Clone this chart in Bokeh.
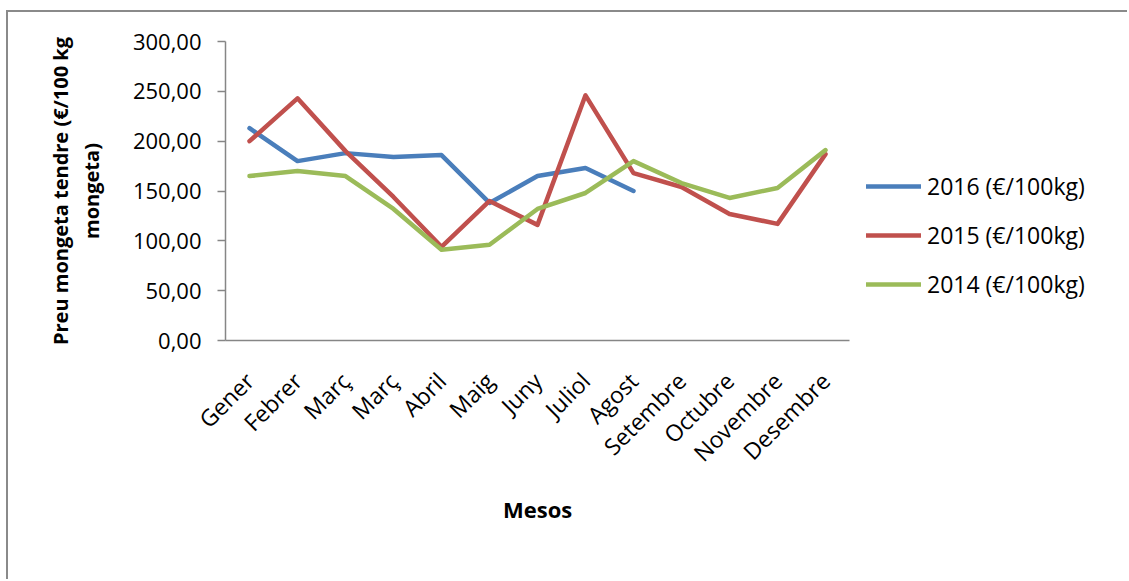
from bokeh.plotting import figure
from bokeh.models import Range1d, FixedTicker, Legend, LegendItem, Title
from bokeh.embed import file_html
from bokeh.resources import INLINE

# Monthly price of green beans (€/100 kg) for three seasons
months = ["Gener", "Febrer", "Març", "Març", "Abril", "Maig", "Juny",
          "Juliol", "Agost", "Setembre", "Octubre", "Novembre", "Desembre"]
price_2016 = [213, 180, 188, 184, 186, 138, 165, 173, 150]
price_2015 = [200, 243, 190, 144, 94, 140, 116, 246, 168, 154, 127, 117, 187]
price_2014 = [165, 170, 165, 132, 91, 96, 132, 148, 180, 158, 143, 153, 191]

series_names = ["2016 (€/100kg)", "2015 (€/100kg)", "2014 (€/100kg)"]
series_colors = ["#4A7EBB", "#C0504D", "#9BBB59"]

y_ticks = [0, 50, 100, 150, 200, 250, 300]
y_tick_labels = ["0,00", "50,00", "100,00", "150,00", "200,00", "250,00", "300,00"]

FONT = "Open Sans"
AXIS_GREY = "#868686"

# canvas and plot-area geometry (pixels)
CANVAS_W, CANVAS_H = 1121, 569
BORDER_LEFT, BORDER_TOP, BORDER_BOTTOM = 217, 29, 241
AXIS_LEN = 624                      # drawn length of the category axis
n = len(months)
px_per_cat = AXIS_LEN / n
frame_w = CANVAS_W - BORDER_LEFT
x_end = -0.5 + frame_w / px_per_cat  # free room on the right holds the legend

p = figure(
    width=CANVAS_W, height=CANVAS_H,
    x_range=Range1d(-0.5, x_end),
    y_range=Range1d(0, 300),
    output_backend="svg", toolbar_location=None,
    min_border_left=BORDER_LEFT, min_border_right=0,
    min_border_top=BORDER_TOP, min_border_bottom=BORDER_BOTTOM,
)
p.styles = {
    "margin-left": "6px", "margin-top": "10px",
    "border-left": "2px solid #8a8a8a", "border-top": "2px solid #8a8a8a",
}
p.outline_line_color = None
p.xgrid.visible = False
p.ygrid.visible = False
p.background_fill_color = "white"
p.border_fill_color = "white"

# x axis: month names, no tick marks
p.xaxis.bounds = (-0.5, n - 0.5)
p.xaxis.ticker = FixedTicker(ticks=list(range(n)))
p.xaxis.major_label_overrides = {i: m for i, m in enumerate(months)}
p.xaxis.major_label_orientation = 0.785398
p.xaxis.major_tick_line_color = None
p.xaxis.minor_tick_line_color = None
p.xaxis.axis_line_color = AXIS_GREY
p.xaxis.axis_line_width = 1.5
p.xaxis.major_label_text_font = FONT
p.xaxis.major_label_text_font_size = "23px"
p.xaxis.major_label_text_color = "black"
p.xaxis.major_label_standoff = 30

# x axis title, centred under the drawn axis line
MESOS_W = 69
x_title = Title(
    text="Mesos", align="left", offset=AXIS_LEN / 2 - MESOS_W / 2, standoff=19,
    text_font=FONT, text_font_style="bold", text_font_size="22px",
    text_color="black",
)
p.add_layout(x_title, "below")

# y axis: prices with comma decimals
p.yaxis.ticker = FixedTicker(ticks=y_ticks)
p.yaxis.major_label_overrides = dict(zip(y_ticks, y_tick_labels))
p.yaxis.minor_tick_line_color = None
p.yaxis.major_tick_out = 8
p.yaxis.major_tick_in = 0
p.yaxis.major_tick_line_color = AXIS_GREY
p.yaxis.major_tick_line_width = 1.5
p.yaxis.axis_line_color = AXIS_GREY
p.yaxis.axis_line_width = 1.5
p.yaxis.major_label_text_font = FONT
p.yaxis.major_label_text_font_size = "22px"
p.yaxis.major_label_text_color = "black"
p.yaxis.major_label_standoff = 16
p.yaxis.axis_label = "Preu mongeta tendre (€/100 kg\nmongeta)"
p.yaxis.axis_label_text_font = FONT
p.yaxis.axis_label_text_font_style = "bold"
p.yaxis.axis_label_text_font_size = "20px"
p.yaxis.axis_label_text_color = "black"
p.yaxis.axis_label_text_line_height = 1.15
p.yaxis.axis_label_standoff = 25

items = []
for name, color, values in zip(series_names, series_colors,
                                [price_2016, price_2015, price_2014]):
    r = p.line(list(range(len(values))), values, line_color=color,
               line_width=4.5, line_cap="round", line_join="round")
    items.append(LegendItem(label=name, renderers=[r]))

legend = Legend(
    items=items, location=(641, 40),
    glyph_width=55, glyph_height=26, label_height=26, spacing=17,
    label_standoff=6, padding=0, margin=0,
    border_line_color=None, background_fill_alpha=0,
    label_text_font=FONT, label_text_font_size="23px", label_text_color="black",
)
p.add_layout(legend, "center")

open("out.html", "w").write(file_html(p, INLINE))
